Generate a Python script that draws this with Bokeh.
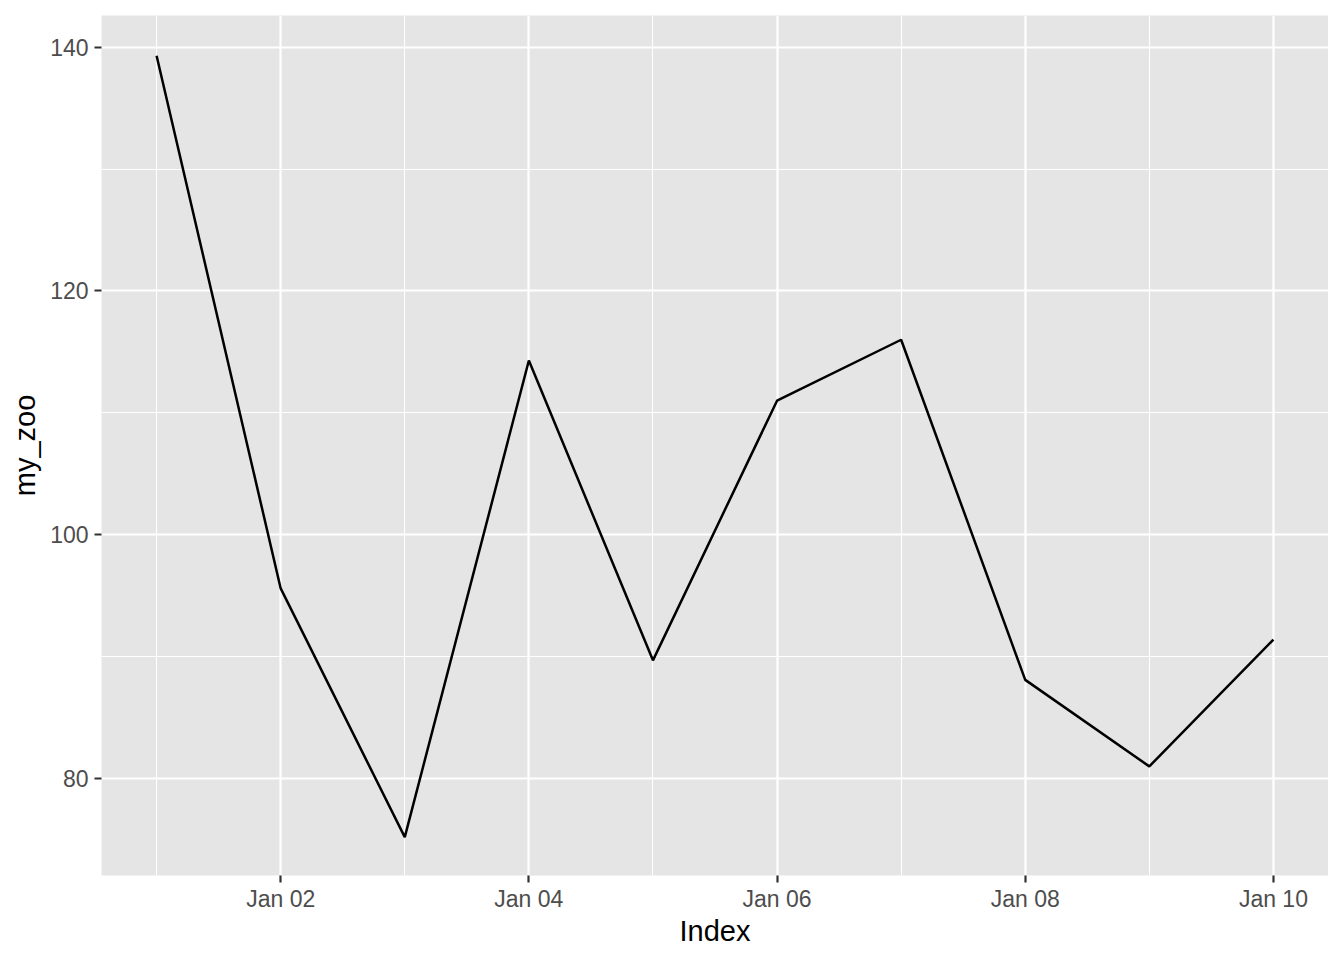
from datetime import datetime
from bokeh.plotting import figure
from bokeh.models import FixedTicker, DatetimeTickFormatter, Range1d
from bokeh.embed import file_html
from bokeh.resources import INLINE

dates = ["2024-01-01", "2024-01-02", "2024-01-03", "2024-01-04", "2024-01-05",
         "2024-01-06", "2024-01-07", "2024-01-08", "2024-01-09", "2024-01-10"]
values = [139.3, 95.6, 75.2, 114.3, 89.7, 111.0, 116.0, 88.1, 81.0, 91.4]
x_major = ["2024-01-02", "2024-01-04", "2024-01-06", "2024-01-08", "2024-01-10"]
x_minor = ["2024-01-01", "2024-01-03", "2024-01-05", "2024-01-07", "2024-01-09"]
y_major = [80, 100, 120, 140]
y_minor = [70, 90, 110, 130]

def ms(s):
    return (datetime.strptime(s, "%Y-%m-%d") - datetime(1970, 1, 1)).total_seconds() * 1000.0

xs = [datetime.strptime(d, "%Y-%m-%d") for d in dates]
day = 86400000.0
xmin = ms(dates[0]) - 0.444 * day
xmax = ms(dates[-1]) + 0.444 * day

p = figure(width=1328, height=949, x_axis_type="datetime",
           output_backend="svg", toolbar_location=None,
           x_range=Range1d(xmin, xmax), y_range=Range1d(72.05, 142.6),
           min_border_left=101, min_border_right=0, min_border_top=15, min_border_bottom=74)

p.line(xs, values, line_color="black", line_width=2.5)

p.background_fill_color = "#E5E5E5"
p.border_fill_color = "white"
p.outline_line_color = None

p.xaxis.ticker = FixedTicker(ticks=[ms(d) for d in x_major], minor_ticks=[ms(d) for d in x_minor])
p.xaxis.formatter = DatetimeTickFormatter(days="%b %d", months="%b %d", hours="%b %d")
p.yaxis.ticker = FixedTicker(ticks=y_major, minor_ticks=y_minor)

for g in (p.xgrid, p.ygrid):
    g.grid_line_color = "white"
    g.grid_line_width = 2.2
    g.minor_grid_line_color = "white"
    g.minor_grid_line_width = 1.1

for ax in (p.xaxis, p.yaxis):
    ax.axis_line_color = None
    ax.major_tick_line_color = "#333333"
    ax.major_tick_line_width = 2.2
    ax.major_tick_out = 7
    ax.major_tick_in = 0
    ax.minor_tick_line_color = None
    ax.major_label_text_color = "#4D4D4D"
    ax.major_label_text_font = "Liberation Sans"
    ax.major_label_text_font_size = "23px"
    ax.axis_label_text_font = "Liberation Sans"
    ax.axis_label_text_font_size = "29px"
    ax.axis_label_text_font_style = "normal"
    ax.axis_label_text_color = "black"

p.xaxis.axis_label = "Index"
p.yaxis.axis_label = "my_zoo"
p.xaxis.major_label_standoff = 3
p.yaxis.major_label_standoff = 6
p.xaxis.axis_label_standoff = 0
p.yaxis.axis_label_standoff = 6

open("out.html", "w").write(file_html(p, INLINE))
